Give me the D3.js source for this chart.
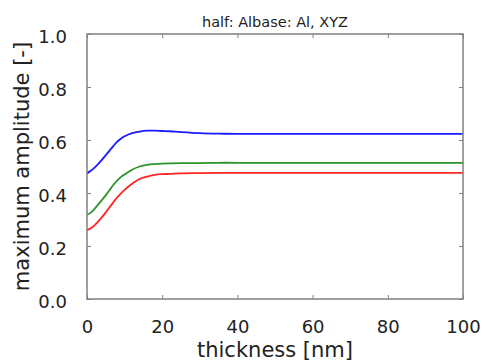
<!DOCTYPE html>
<html><head><meta charset="utf-8">
<script src="https://cdn.jsdelivr.net/npm/d3@7"></script>
<style>body{margin:0;background:#fff}svg{display:block}text{font-family:"DejaVu Sans",sans-serif;fill:#222}</style>
</head><body>
<script>
const thickness = [0,1,2,3,4,5,6,7,8,9,10,12,14,16,18,20,22,25,30,35,40,50,60,80,100];
const blueSeries  = [.474,.484,.496,.510,.526,.543,.560,.577,.593,.605,.614,.626,.632,.635,.635,.634,.633,.630,.626,.624,.623,.623,.623,.623,.623];
const greenSeries = [.318,.326,.340,.357,.374,.392,.411,.430,.447,.460,.470,.488,.500,.506,.509,.511,.512,.513,.513,.514,.514,.514,.514,.514,.514];
const redSeries   = [.260,.267,.278,.293,.309,.327,.346,.365,.383,.398,.412,.435,.453,.462,.468,.471,.472,.474,.475,.476,.476,.476,.476,.476,.476];
const xTicks = [0,20,40,60,80,100];
const yTicks = [0,0.2,0.4,0.6,0.8,1.0];
const titleText = "half: Albase: Al, XYZ";
const xLabel = "thickness [nm]";
const yLabel = "maximum amplitude [-]";

const W=482,H=361;
const m={l:87,r:19,t:34,b:62};
const svg=d3.select("body").append("svg").attr("width",W).attr("height",H);
const x=d3.scaleLinear().domain([0,100]).range([m.l,W-m.r]);
const y=d3.scaleLinear().domain([0,1]).range([H-m.b,m.t]);
const frame="#808080";

const series=[{v:blueSeries,c:"#1a1aff"},{v:greenSeries,c:"#2a962a"},{v:redSeries,c:"#ff2424"}];
const line=d3.line().curve(d3.curveCatmullRom.alpha(0.5));
series.forEach(s=>{
  svg.append("path").attr("d",line(thickness.map((t,i)=>[x(t),y(s.v[i])])))
    .attr("fill","none").attr("stroke",s.c).attr("stroke-width",1.8);
});

const fs="18px";
const gx=svg.append("g").attr("transform",`translate(0,${H-m.b})`)
  .call(d3.axisBottom(x).tickValues(xTicks).tickSize(-4).tickPadding(21).tickFormat(d3.format("d")));
const gxt=svg.append("g").attr("transform",`translate(0,${m.t})`)
  .call(d3.axisTop(x).tickValues(xTicks).tickSize(-4).tickFormat(""));
const gy=svg.append("g").attr("transform",`translate(${m.l},0)`)
  .call(d3.axisLeft(y).tickValues(yTicks).tickSize(-4).tickPadding(20).tickFormat(d3.format(".1f")));
const gyr=svg.append("g").attr("transform",`translate(${W-m.r},0)`)
  .call(d3.axisRight(y).tickValues(yTicks).tickSize(-4).tickFormat(""));
[gx,gxt,gy,gyr].forEach(g=>{
  g.select(".domain").remove();
  g.selectAll(".tick line").attr("stroke",frame).attr("stroke-width",1);
  g.selectAll(".tick text").style("font-size",fs).style("font-family","DejaVu Sans").attr("fill","#222");
});
gy.selectAll(".tick text").attr("dy","0.45em");
svg.append("rect").attr("x",m.l).attr("y",m.t).attr("width",W-m.r-m.l).attr("height",H-m.b-m.t)
  .attr("fill","none").attr("stroke",frame).attr("stroke-width",1.5);

svg.append("text").attr("x",(m.l+W-m.r)/2).attr("y",27).attr("text-anchor","middle")
  .style("font-size","14.5px").text(titleText);
svg.append("text").attr("x",(m.l+W-m.r)/2).attr("y",357).attr("text-anchor","middle")
  .style("font-size","21px").text(xLabel);
svg.append("text").attr("transform",`translate(29,${(m.t+H-m.b)/2}) rotate(-90)`).attr("text-anchor","middle")
  .style("font-size","21px").text(yLabel);
</script>
</body></html>
